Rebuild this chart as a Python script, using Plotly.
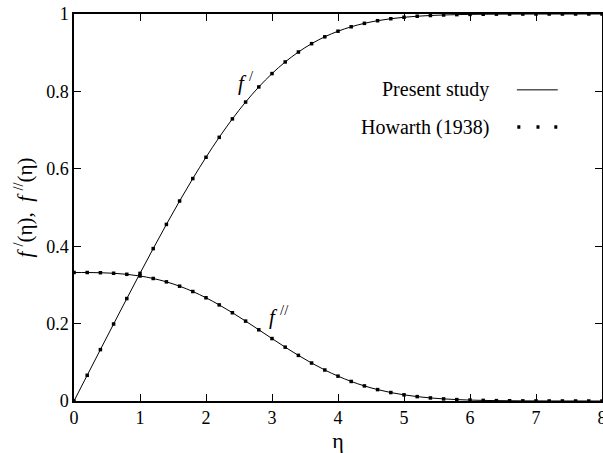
import plotly.graph_objects as go

eta = [0.0, 0.2, 0.4, 0.6, 0.8, 1.0, 1.2, 1.4, 1.6, 1.8, 2.0, 2.2, 2.4, 2.6, 2.8,
       3.0, 3.2, 3.4, 3.6, 3.8, 4.0, 4.2, 4.4, 4.6, 4.8, 5.0, 5.2, 5.4, 5.6, 5.8,
       6.0, 6.2, 6.4, 6.6, 6.8, 7.0, 7.2, 7.4, 7.6, 7.8, 8.0]
fp = [0.0, 0.06641, 0.13277, 0.19894, 0.26471, 0.32979, 0.39378, 0.45627, 0.51676,
      0.57477, 0.62977, 0.68132, 0.72899, 0.77246, 0.81152, 0.84605, 0.87609,
      0.90177, 0.92333, 0.94112, 0.95552, 0.96696, 0.97587, 0.98269, 0.98779,
      0.99155, 0.99425, 0.99616, 0.99748, 0.99838, 0.99898, 0.99937, 0.99961,
      0.99977, 0.99987, 0.99992, 0.99996, 0.99998, 0.99999, 1.0, 1.0]
fpp = [0.33206, 0.33199, 0.33147, 0.33008, 0.32739, 0.32301, 0.31659, 0.30787,
       0.29667, 0.28293, 0.26675, 0.24835, 0.22809, 0.20646, 0.18401, 0.16136,
       0.13913, 0.11788, 0.09809, 0.08013, 0.06424, 0.05052, 0.03897, 0.02948,
       0.02187, 0.01591, 0.01134, 0.00793, 0.00543, 0.00365, 0.00240, 0.00155,
       0.00098, 0.00061, 0.00037, 0.00022, 0.00013, 0.00007, 0.00004, 0.00002,
       0.00001]
xticks = [0, 1, 2, 3, 4, 5, 6, 7, 8]
yticks = [0, 0.2, 0.4, 0.6, 0.8, 1]
ytick_labels = ["0", "0.2", "0.4", "0.6", "0.8", "1"]
legend_labels = ["Present study", "Howarth (1938)"]

FONT = "Liberation Serif"

fig = go.Figure()
for ys in (fp, fpp):
    fig.add_trace(go.Scatter(x=eta, y=ys, mode="lines", line=dict(color="black", width=1, shape="spline"),
                             showlegend=False, hoverinfo="skip"))
    fig.add_trace(go.Scatter(x=eta, y=ys, mode="markers",
                             marker=dict(symbol="square", size=3.5, color="black"),
                             showlegend=False, cliponaxis=False))

axis_common = dict(showline=True, linecolor="black", linewidth=1.5, mirror="ticks",
                   ticks="inside", ticklen=7, tickcolor="black", tickwidth=1,
                   showgrid=False, zeroline=False, automargin=False,
                   ticklabeloverflow="allow",
                   tickfont=dict(family=FONT, size=18, color="black"))

fig.update_xaxes(range=[0, 8], tickvals=xticks, **axis_common,
                 title=dict(text="η", font=dict(family=FONT, size=22, color="black"), standoff=0))
fig.update_yaxes(range=[0, 1], tickvals=yticks, ticktext=ytick_labels, **axis_common,
                 title=dict(text="<i>f </i><sup>/</sup>(η),  <i>f </i><sup>//</sup>(η)",
                            font=dict(family=FONT, size=21, color="black"), standoff=8))

fig.add_annotation(x=2.6, y=0.825, text="<i>f </i><sup>/</sup>", showarrow=False,
                   font=dict(family=FONT, size=21, color="black"))
fig.add_annotation(x=3.1, y=0.22, text="<i>f </i><sup>//</sup>", showarrow=False,
                   font=dict(family=FONT, size=21, color="black"))

# legend (text left, sample right)
fig.add_annotation(x=6.32, y=0.804, xanchor="right", yanchor="middle",
                   text=legend_labels[0], showarrow=False, font=dict(family=FONT, size=20, color="black"))
fig.add_annotation(x=6.32, y=0.708, xanchor="right", yanchor="middle",
                   text=legend_labels[1], showarrow=False, font=dict(family=FONT, size=20, color="black"))
fig.add_shape(type="line", xref="x", yref="y", x0=6.71, x1=7.33, y0=0.804, y1=0.804,
              line=dict(color="black", width=1))
for px in (6.74, 7.03, 7.30):
    fig.add_shape(type="rect", xref="x", yref="y", x0=px - 0.023, x1=px + 0.023,
                  y0=0.708 - 0.0045, y1=0.708 + 0.0045, line=dict(width=0), fillcolor="black")

fig.update_layout(width=603, height=453, margin=dict(l=74, r=1, t=14, b=52),
                  plot_bgcolor="white", paper_bgcolor="white", showlegend=False)
fig.write_html("out.html", config={"displayModeBar": False},
               post_script="document.body.style.margin='0';document.body.style.padding='0';")
